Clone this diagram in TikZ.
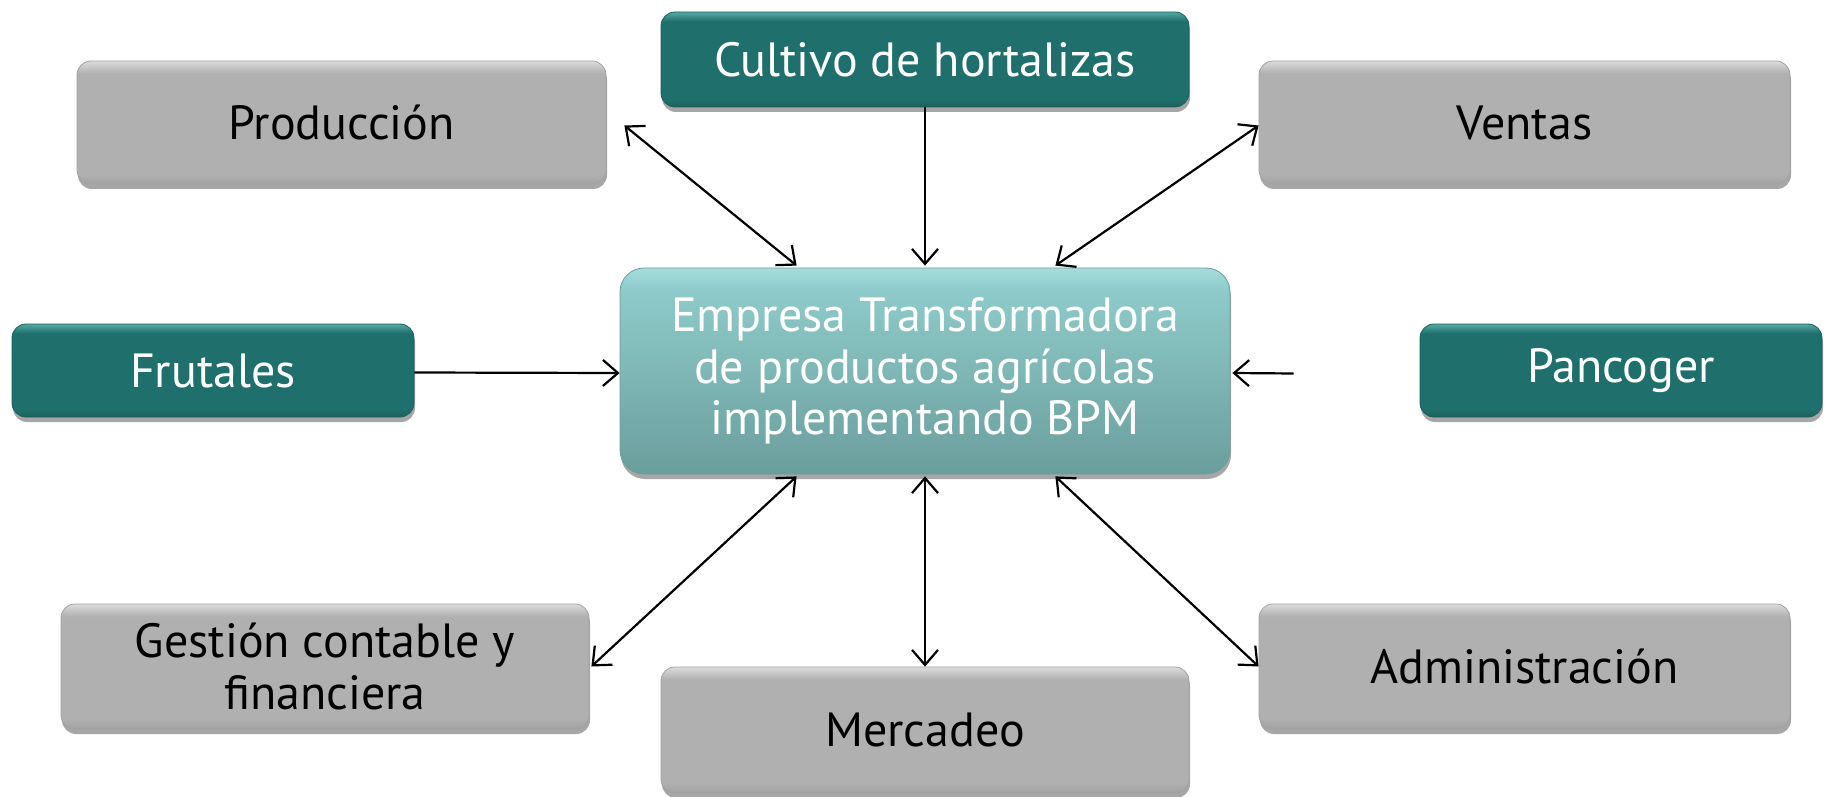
\documentclass[tikz,border=0pt]{standalone}
\usepackage{fontspec}
\setmainfont{PT Sans}
\usetikzlibrary{arrows.meta,shadows,calc}
\definecolor{gMain}{HTML}{B0B0B0}
\definecolor{gTop}{HTML}{DCDCDC}
\definecolor{gBot}{HTML}{A2A2A2}
\definecolor{tMain}{HTML}{1F6F6C}
\definecolor{tTop}{HTML}{55AAA6}
\definecolor{tBot}{HTML}{1A605D}
\definecolor{cTop}{HTML}{8ECBCA}
\definecolor{cHi}{HTML}{A6DCDB}
\definecolor{cBot}{HTML}{6A9E9D}
\pgfdeclareverticalshading{grayshade}{100bp}{color(0bp)=(gBot); color(25bp)=(gBot); color(29bp)=(gMain); color(70bp)=(gMain); color(75bp)=(gTop); color(100bp)=(gTop)}
\pgfdeclareverticalshading{tealshade}{100bp}{color(0bp)=(tBot); color(25bp)=(tBot); color(29bp)=(tMain); color(70bp)=(tMain); color(75bp)=(tTop); color(100bp)=(tTop)}
\pgfdeclareverticalshading{centershade}{100bp}{color(0bp)=(cBot); color(25bp)=(cBot); color(70bp)=(cTop); color(75bp)=(cHi); color(100bp)=(cHi)}
\tikzset{
  base/.style={rounded corners=7pt, align=center, inner sep=0pt,
    font=\fontsize{24}{25.6}\selectfont,
    drop shadow={shadow xshift=0.5pt, shadow yshift=-2.5pt, opacity=.35, fill=black}},
  graybox/.style={base, shading=grayshade, text=black, draw=gBot, line width=0.4pt},
  tealbox/.style={base, shading=tealshade, text=white, draw=tBot, line width=0.4pt},
  centerbox/.style={base, shading=centershade, text=white, rounded corners=12pt, draw=cBot, line width=0.4pt},
  conn/.style={line width=1.1pt, black},
  barb/.tip={Straight Barb[length=7.5pt,width=13pt]}
}
\begin{document}
\begin{tikzpicture}[x=0.5pt,y=-0.5pt]
\useasboundingbox (0,0) rectangle (1828,797);
% nodes
\node[tealbox, minimum width=264pt, minimum height=47.5pt] (cult) at (925,59.5) {Cultivo de hortalizas};
\node[graybox, minimum width=264.5pt, minimum height=61.5pt] (prod) at (341.5,122.5) {Producción};
\node[graybox, minimum width=265.5pt, minimum height=61.5pt] (vent) at (1524.5,122.5) {Ventas};
\node[tealbox, minimum width=201pt, minimum height=46.5pt] (frut) at (213,370.5) {Frutales};
\node[centerbox, minimum width=305pt, minimum height=103pt] (emp) at (925,371) {Empresa Transformadora\\de productos agrícolas\\implementando BPM};
\node[tealbox, minimum width=201pt, minimum height=46.5pt] (panc) at (1621,370.5) {Pancoger};
\node[graybox, minimum width=264pt, minimum height=62.5pt] (gest) at (325,666.5) {Gestión contable y\\financiera};
\node[graybox, minimum width=264pt, minimum height=63pt] (merc) at (925,730) {Mercadeo};
\node[graybox, minimum width=265.5pt, minimum height=62.5pt] (admi) at (1524.5,666.5) {Administración};
% connector points
\coordinate (pancstart) at ($(panc.west)+(-126,3)$);
% connectors
\draw[conn, -barb] (cult.south) -- ($(emp.north)+(0,-2)$);
\draw[conn, barb-barb] ($(prod.east)+(18,3)$) -- ($(emp.north west)+(177,-2)$);
\draw[conn, barb-barb] ($(vent.west)+(0,3)$) -- ($(emp.north east)+(-175,-2)$);
\draw[conn, -barb] ($(frut.east)+(0,2)$) -- ($(emp.west)+(0,2)$);
\draw[conn, -barb] (pancstart) -- ($(emp.east)+(2,2)$);
\draw[conn, barb-barb] ($(gest.east)+(2,0)$) -- ($(emp.south west)+(177,2)$);
\draw[conn, barb-barb] ($(emp.south)+(0,2)$) -- (merc.north);
\draw[conn, barb-barb] ($(emp.south east)+(-175,2)$) -- (admi.west);
\end{tikzpicture}
\end{document}
